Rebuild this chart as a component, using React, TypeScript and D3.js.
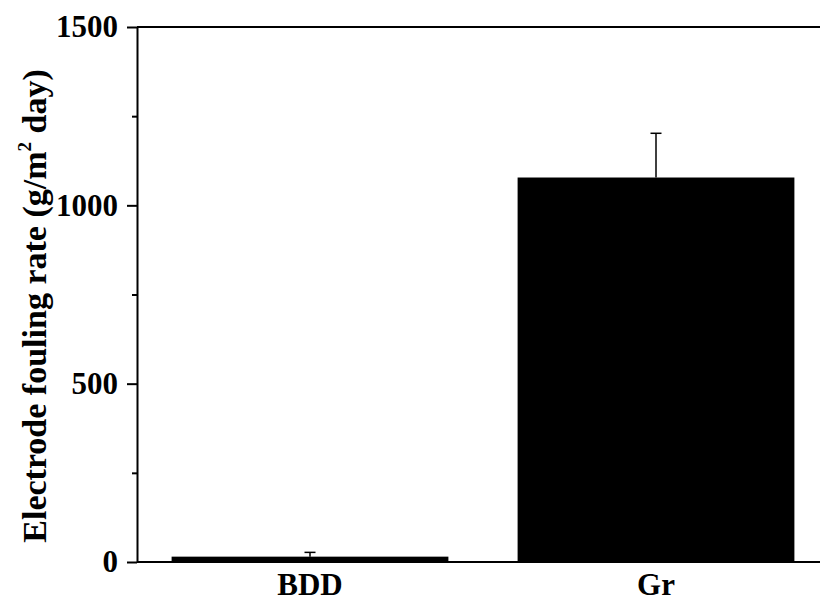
import React, { useEffect, useRef } from 'react';
import * as d3 from 'd3';

const categories = ['BDD', 'Gr'];
const rates = [15, 1078];
const errors = [12, 124];
const majorTicks = [0, 500, 1000, 1500];
const minorTicks = [250, 750, 1250];

export default function App() {
  const ref = useRef<SVGSVGElement | null>(null);

  useEffect(() => {
    const height = 606;
    const margin = { top: 27, left: 137, bottom: 44 };
    const plotRight = 829; // frame runs past the visible edge
    const svg = d3.select(ref.current);
    svg.selectAll('*').remove();

    const font = '"Liberation Serif", "Times New Roman", serif';

    const x = d3.scaleBand()
      .domain(categories)
      .range([margin.left, plotRight])
      .paddingInner(0.2)
      .paddingOuter(0.1);

    const y = d3.scaleLinear()
      .domain([0, 1500])
      .range([height - margin.bottom, margin.top]);

    // bars
    svg.append('g')
      .selectAll('rect')
      .data(categories)
      .enter()
      .append('rect')
      .attr('x', d => x(d)!)
      .attr('y', (d, i) => y(rates[i]))
      .attr('width', x.bandwidth())
      .attr('height', (d, i) => y(0) - y(rates[i]))
      .attr('fill', '#000');

    // error bars (upper only)
    const eb = svg.append('g').attr('stroke', '#000').attr('stroke-width', 1.5);
    categories.forEach((c, i) => {
      const cx = x(c)! + x.bandwidth() / 2;
      eb.append('line')
        .attr('x1', cx).attr('x2', cx)
        .attr('y1', y(rates[i])).attr('y2', y(rates[i] + errors[i]));
      eb.append('line')
        .attr('x1', cx - 5.5).attr('x2', cx + 5.5)
        .attr('y1', y(rates[i] + errors[i])).attr('y2', y(rates[i] + errors[i]));
    });

    // frame
    const frame = svg.append('g').attr('stroke', '#000').attr('stroke-width', 2);
    frame.append('line')
      .attr('x1', margin.left).attr('x2', plotRight)
      .attr('y1', y(1500)).attr('y2', y(1500));
    frame.append('line')
      .attr('x1', margin.left).attr('x2', plotRight)
      .attr('y1', y(0)).attr('y2', y(0));
    frame.append('line')
      .attr('x1', plotRight).attr('x2', plotRight)
      .attr('y1', y(0)).attr('y2', y(1500));

    // y axis
    const yAxis = svg.append('g')
      .attr('transform', `translate(${margin.left},0)`)
      .call(d3.axisLeft(y).tickValues(majorTicks).tickFormat(d3.format('d')).tickSize(10).tickPadding(9).tickSizeOuter(0));
    yAxis.select('.domain').attr('stroke-width', 2);
    yAxis.selectAll('.tick line').attr('stroke-width', 2);
    yAxis.selectAll('.tick text')
      .attr('font-family', font)
      .attr('font-weight', 'bold')
      .attr('font-size', 31)
      .attr('fill', '#000');

    const yMinor = svg.append('g')
      .attr('transform', `translate(${margin.left},0)`)
      .call(d3.axisLeft(y).tickValues(minorTicks).tickSize(5).tickFormat(() => '').tickSizeOuter(0));
    yMinor.select('.domain').remove();
    yMinor.selectAll('.tick line').attr('stroke-width', 2);

    // x labels
    svg.append('g')
      .selectAll('text')
      .data(categories)
      .enter()
      .append('text')
      .attr('x', d => x(d)! + x.bandwidth() / 2)
      .attr('y', 595)
      .attr('text-anchor', 'middle')
      .attr('font-family', font)
      .attr('font-weight', 'bold')
      .attr('font-size', 31)
      .text(d => d);

    // y title
    const title = svg.append('text')
      .attr('transform', 'translate(46,306) rotate(-90)')
      .attr('text-anchor', 'middle')
      .attr('font-family', font)
      .attr('font-weight', 'bold')
      .attr('font-size', 34);
    title.append('tspan').text('Electrode fouling rate (g/m');
    title.append('tspan').attr('font-size', 19).attr('dy', -15).text('2');
    title.append('tspan').attr('dy', 15).text(' day)');
  }, []);

  return (
    <svg
      ref={ref}
      width={820}
      height={606}
      style={{ position: 'absolute', left: 0, top: 0, background: '#fff' }}
    />
  );
}
